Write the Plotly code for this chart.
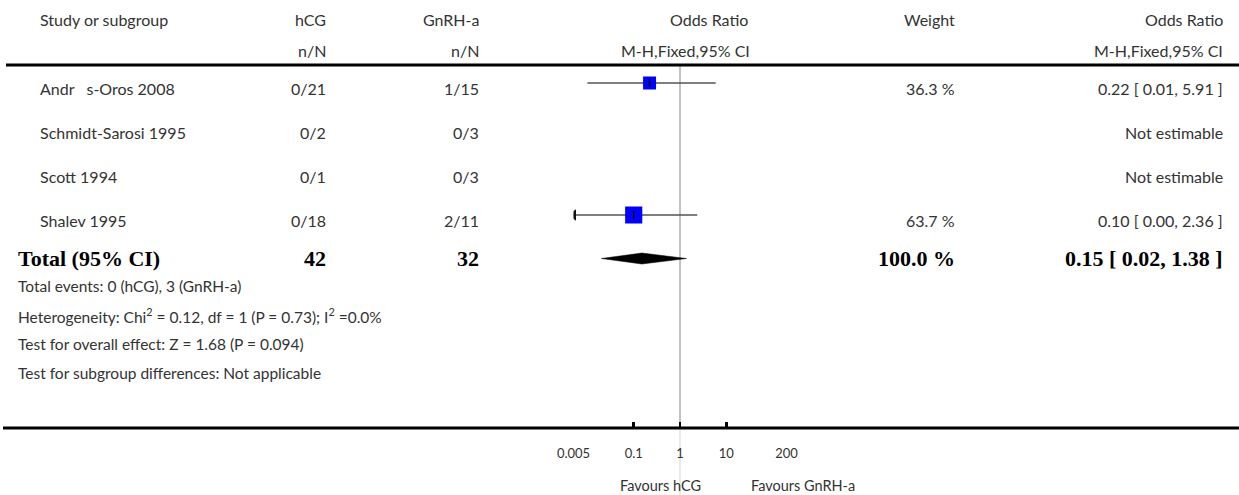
import math
import plotly.graph_objects as go

# ---------------- data ----------------
studies = ["Andr\u00a0\u00a0 s-Oros 2008", "Schmidt-Sarosi 1995", "Scott 1994", "Shalev 1995"]
hcg_events = [0, 0, 0, 0]
hcg_total = [21, 2, 1, 18]
gnrh_events = [1, 0, 0, 2]
gnrh_total = [15, 3, 3, 11]
odds_ratio = [0.22, None, None, 0.10]
ci_low = [0.01, None, None, 0.00]
ci_high = [5.91, None, None, 2.36]
weights = [36.3, None, None, 63.7]

total_label = "Total (95% CI)"
total_hcg = 42
total_gnrh = 32
total_or = 0.15
total_low = 0.02
total_high = 1.38
total_weight = 100.0

footnotes = [
    "Total events: 0 (hCG), 3 (GnRH-a)",
    "Heterogeneity: Chi<sup>2</sup> = 0.12, df = 1 (P = 0.73); I<sup>2</sup> =0.0%",
    "Test for overall effect: Z = 1.68 (P = 0.094)",
    "Test for subgroup differences: Not applicable",
]

tick_vals = [0.005, 0.1, 1, 10, 200]
tick_text = ["0.005", "0.1", "1", "10", "200"]
favours_left = "Favours hCG"
favours_right = "Favours GnRH-a"

# ---------------- layout constants (pixels) ----------------
W, H = 1239, 495
X_MIN, X_MAX = 0.005, 200
PLOT_L, PLOT_R = 573.5, 786.5
HEAD1_Y, HEAD2_Y = 19, 50
TOP_LINE_Y = 65
ROW_Y0, ROW_DY = 83, 44
TEXT_DY = 5
TOTAL_Y = 258.5
FOOT_Y0, FOOT_DY = 286, 29
AXIS_Y = 428
FAV_Y = 485

STUDY_X = 38
TOTAL_X = 16
HCG_X = 328
GNRH_X = 481
ORH_X = 750
MH_X = 752
WEIGHT_X = 957
OR_X = 1225

FONT = "Lato"
SERIF = "Liberation Serif"
TXT = "#333333"
FS = 16
FSF = 15.5
FSB = 22

def px(x):
    return x / W

fig = go.Figure()

row_y = [ROW_Y0 + i * ROW_DY for i in range(len(studies))]

# CI lines, arrows, squares
for i in range(len(studies)):
    if odds_ratio[i] is None:
        continue
    lo = ci_low[i]
    hi = ci_high[i]
    lo_c = lo if lo >= X_MIN else X_MIN
    hi_c = hi if hi <= X_MAX else X_MAX
    fig.add_trace(go.Scatter(x=[lo_c, hi_c], y=[row_y[i], row_y[i]], mode="lines",
                             line=dict(color="#555555", width=1.6), hoverinfo="skip", showlegend=False))
    if lo < X_MIN:
        fig.add_trace(go.Scatter(x=[lo_c], y=[row_y[i]], mode="markers",
                                 marker=dict(symbol="triangle-left", size=10, color="#111111",
                                             line=dict(width=0)),
                                 hoverinfo="skip", showlegend=False))
    fig.add_trace(go.Scatter(x=[odds_ratio[i]], y=[row_y[i]], mode="markers",
                             marker=dict(symbol="square", size=2.15 * math.sqrt(weights[i]), color="#0000ff",
                                         line=dict(width=0)),
                             hoverinfo="skip", showlegend=False))
    fig.add_trace(go.Scatter(x=[odds_ratio[i]], y=[row_y[i]], mode="markers",
                             marker=dict(symbol="line-ns-open", size=6, color="#000000",
                                         line=dict(color="#000000", width=1.5)),
                             hoverinfo="skip", showlegend=False))

# total diamond
fig.add_trace(go.Scatter(x=[total_low, total_or, total_high, total_or, total_low],
                         y=[TOTAL_Y, TOTAL_Y - 5.5, TOTAL_Y, TOTAL_Y + 5.5, TOTAL_Y],
                         mode="lines", fill="toself", fillcolor="black",
                         line=dict(color="black", width=0.5), hoverinfo="skip", showlegend=False))

ann = []

def add_text(x, y, text, anchor, size=FS, family=FONT, color=TXT, xref="paper", xshift=0):
    ann.append(dict(x=x if xref != "paper" else px(x), y=y, xref=xref, yref="y", text=text,
                    showarrow=False, xanchor=anchor, yanchor="middle", xshift=xshift,
                    font=dict(family=family, size=size, color=color)))

# headers
add_text(STUDY_X, HEAD1_Y, "Study or subgroup", "left")
add_text(HCG_X, HEAD1_Y, "hCG", "right")
add_text(GNRH_X, HEAD1_Y, "GnRH-a", "right")
add_text(ORH_X, HEAD1_Y, "Odds Ratio", "right")
add_text(WEIGHT_X, HEAD1_Y, "Weight", "right")
add_text(OR_X, HEAD1_Y, "Odds Ratio", "right")
add_text(HCG_X, HEAD2_Y, "n/N", "right")
add_text(GNRH_X, HEAD2_Y, "n/N", "right")
add_text(MH_X, HEAD2_Y, "M-H,Fixed,95% CI", "right")
add_text(OR_X, HEAD2_Y, "M-H,Fixed,95% CI", "right")

# study rows
for i, s in enumerate(studies):
    y = row_y[i] + TEXT_DY
    add_text(STUDY_X, y, s, "left")
    add_text(HCG_X, y, f"{hcg_events[i]}/{hcg_total[i]}", "right")
    add_text(GNRH_X, y, f"{gnrh_events[i]}/{gnrh_total[i]}", "right")
    if odds_ratio[i] is None:
        add_text(OR_X, y, "Not estimable", "right")
    else:
        add_text(WEIGHT_X, y, f"{weights[i]:.1f} %", "right")
        add_text(OR_X, y, f"{odds_ratio[i]:.2f} [ {ci_low[i]:.2f}, {ci_high[i]:.2f} ]", "right")

# total row
add_text(TOTAL_X, TOTAL_Y, f"<b>{total_label}</b>", "left", size=FSB, family=SERIF, color="black")
add_text(HCG_X, TOTAL_Y, f"<b>{total_hcg}</b>", "right", size=FSB, family=SERIF, color="black")
add_text(GNRH_X, TOTAL_Y, f"<b>{total_gnrh}</b>", "right", size=FSB, family=SERIF, color="black")
add_text(WEIGHT_X, TOTAL_Y, f"<b>{total_weight:.1f} %</b>", "right", size=FSB, family=SERIF, color="black")
add_text(OR_X, TOTAL_Y, f"<b>{total_or:.2f} [ {total_low:.2f}, {total_high:.2f} ]</b>", "right",
         size=FSB, family=SERIF, color="black")

for k, f in enumerate(footnotes):
    add_text(TOTAL_X, FOOT_Y0 + k * FOOT_DY, f, "left", size=FSF)

# favours labels
add_text(1, FAV_Y, favours_left, "right", size=14.5, xref="x", xshift=-23)
add_text(1, FAV_Y, favours_right, "left", size=14.5, xref="x", xshift=23)

shapes = [
    dict(type="line", xref="paper", yref="y", x0=px(6), x1=1, y0=TOP_LINE_Y, y1=TOP_LINE_Y,
         line=dict(color="black", width=3)),
    dict(type="line", xref="paper", yref="y", x0=px(3), x1=1, y0=AXIS_Y, y1=AXIS_Y,
         line=dict(color="black", width=3)),
    dict(type="line", xref="x", yref="y", x0=1, x1=1, y0=TOP_LINE_Y + 1, y1=AXIS_Y,
         line=dict(color="#999999", width=1.2), layer="below"),
    dict(type="line", xref="x", yref="y", x0=1, x1=1, y0=AXIS_Y, y1=H,
         line=dict(color="#dddddd", width=1.2), layer="below"),
]

fig.update_layout(
    width=W, height=H,
    margin=dict(l=0, r=0, t=0, b=0, autoexpand=False),
    paper_bgcolor="white", plot_bgcolor="white",
    showlegend=False,
    annotations=ann, shapes=shapes,
    xaxis=dict(type="log", range=[math.log10(X_MIN), math.log10(X_MAX)],
               domain=[px(PLOT_L), px(PLOT_R)], anchor="free", position=1 - AXIS_Y / H,
               showgrid=False, zeroline=False, showline=False,
               tickmode="array", tickvals=tick_vals, ticktext=tick_text,
               ticks="inside", ticklen=6, tickwidth=2.5, tickcolor="black",
               ticklabelstandoff=16,
               tickfont=dict(family=FONT, size=13, color=TXT)),
    yaxis=dict(range=[H, 0], domain=[0, 1], visible=False, showgrid=False, zeroline=False),
)

fig.write_html("out.html", config={"displayModeBar": False, "staticPlot": True},
               post_script="document.body.style.margin='0';document.body.style.overflow='hidden';")
